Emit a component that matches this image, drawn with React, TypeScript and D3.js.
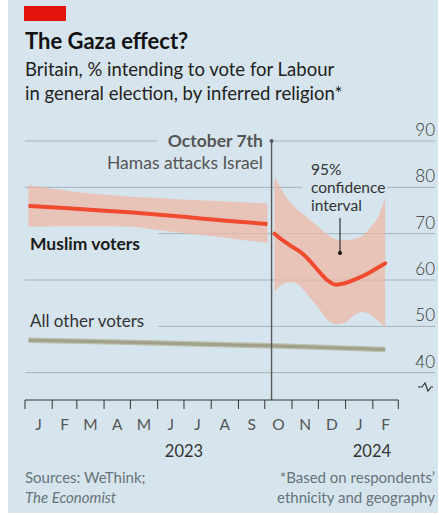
import * as d3 from "d3";

// x-axis month initials, Jan 2023 .. Feb 2024
const monthLabels = ["J", "F", "M", "A", "M", "J", "J", "A", "S", "O", "N", "D", "J", "F"];
const yearLabels = ["2023", "2024"];
const yearCentres = ["2023-07-01", "2024-01-31"];
const yTicks = [40, 50, 60, 70, 80, 90];

// Muslim voters, before Oct 7th
const preDates = ["2023-01-05", "2023-02-10", "2023-03-20", "2023-04-30", "2023-06-10", "2023-07-20", "2023-08-25", "2023-10-04"];
const preMid = [76.0, 75.6, 75.1, 74.6, 74.0, 73.3, 72.7, 72.1];
const preLow = [71.5, 71.6, 71.6, 71.5, 70.6, 69.7, 68.9, 68.0];
const preHigh = [80.5, 79.5, 78.6, 78.0, 77.6, 77.2, 76.9, 76.5];

// Muslim voters, after Oct 7th
const postDates = ["2023-10-12", "2023-10-22", "2023-11-01", "2023-11-11", "2023-11-21", "2023-12-01", "2023-12-11", "2023-12-21", "2023-12-31", "2024-01-10", "2024-01-20", "2024-01-30", "2024-02-08", "2024-02-15"];
const postMid = [70.0, 68.5, 67.2, 66.0, 64.2, 62.0, 60.0, 59.0, 59.3, 60.0, 60.8, 61.8, 62.8, 63.6];
const postLow = [57.4, 59.2, 59.5, 58.5, 56.3, 54.0, 51.5, 50.5, 50.8, 52.3, 53.1, 52.5, 51.0, 49.9];
const postHigh = [82.4, 78.9, 76.3, 74.6, 73.0, 71.5, 69.8, 68.8, 68.6, 68.8, 69.5, 71.5, 74.0, 77.7];

// All other voters
const otherDates = ["2023-01-05", "2023-06-01", "2023-10-07", "2024-02-15"];
const otherMid = [47.0, 46.4, 45.8, 45.0];
const otherLow = [46.4, 45.8, 45.2, 44.4];
const otherHigh = [47.6, 47.0, 46.4, 45.6];

const eventDate = "2023-10-07";

const BG = "#d6e5ed";
const GRID = "#a3b3bc";
const RED = "#f04a2f";
const FONT = "Lato, 'Open Sans', sans-serif";

type Pt = { d: Date; m: number; lo: number; hi: number };
const parse = d3.utcParse("%Y-%m-%d");
const toPts = (dates: string[], m: number[], lo: number[], hi: number[]): Pt[] =>
  dates.map((s, i) => ({ d: parse(s)!, m: m[i], lo: lo[i], hi: hi[i] }));

export default function App() {
  const width = 439;
  const height = 515;
  const left = 25;
  const right = 435;

  const x = d3
    .scaleUtc()
    .domain([new Date(Date.UTC(2023, 0, 1)), new Date(Date.UTC(2024, 2, 1))])
    .range([left, 398.3]);
  const y = d3.scaleLinear().domain([40, 90]).range([372.7, 141]);
  const axisY = 400;

  const pre = toPts(preDates, preMid, preLow, preHigh);
  const post = toPts(postDates, postMid, postLow, postHigh);
  const other = toPts(otherDates, otherMid, otherLow, otherHigh);

  const area = d3
    .area<Pt>()
    .x((p) => x(p.d))
    .y0((p) => y(p.lo))
    .y1((p) => y(p.hi))
    .curve(d3.curveMonotoneX);
  const line = d3
    .line<Pt>()
    .x((p) => x(p.d))
    .y((p) => y(p.m))
    .curve(d3.curveMonotoneX);

  const months = d3.utcMonth.range(x.domain()[0], d3.utcMonth.offset(x.domain()[1], 1));
  const ex = x(parse(eventDate)!) + 1.5;

  return (
    <svg
      width={width}
      height={height}
      style={{ position: "absolute", left: 0, top: 0, fontFamily: FONT }}
    >
      <rect x={8} y={0} width={430} height={513} fill={BG} />
      <rect x={24} y={6} width={42} height={15} fill="#e3120b" />

      <text x={25} y={49} fontSize={22} fontWeight={700} fill="#121212">
        The Gaza effect?
      </text>
      <text x={25} y={76} fontSize={18.5} fill="#222">
        Britain, % intending to vote for Labour
      </text>
      <text x={25} y={100} fontSize={18.5} fill="#222">
        in general election, by inferred religion*
      </text>

      {/* gridlines */}
      {yTicks.map((t) => (
        <g key={t}>
          <line x1={left} x2={right} y1={y(t)} y2={y(t)} stroke={GRID} strokeWidth={1} />
          <text x={right} y={y(t) - 5} textAnchor="end" fontSize={17} fill="#333" fontWeight={300}>
            {t}
          </text>
        </g>
      ))}

      {/* knock-outs behind labels */}
      <rect x={157} y={y(90) - 3} width={ex - 157} height={6} fill={BG} />
      <rect x={302} y={y(80) - 3} width={85} height={6} fill={BG} />
      <rect x={20} y={y(70) - 2} width={138} height={5} fill={BG} />
      <rect x={20} y={y(50) - 3} width={138} height={6} fill={BG} />

      {/* break symbol */}
      <path d="M418,387 h4 l3,-4 l3,8 l3,-4 h2" fill="none" stroke="#333" strokeWidth={1.2} />

      {/* all other voters */}
      <path d={area(other) ?? ""} fill="#bcbea9" />
      <path d={line(other) ?? ""} fill="none" stroke="#a0a18b" strokeWidth={3} />

      {/* Muslim voters */}
      <path d={area(pre) ?? ""} fill="#eeb8a5" fillOpacity={0.75} />
      <path d={area(post) ?? ""} fill="#eeb8a5" fillOpacity={0.75} />
      <path d={line(pre) ?? ""} fill="none" stroke={RED} strokeWidth={4} />
      <path d={line(post) ?? ""} fill="none" stroke={RED} strokeWidth={4} strokeLinecap="round" />

      {/* event line */}
      <line x1={ex} x2={ex} y1={y(90)} y2={axisY} stroke="#595959" strokeWidth={1.4} />
      <circle cx={ex} cy={y(90)} r={2} fill="#595959" />
      <text x={263} y={147} textAnchor="end" fontSize={17.5} fontWeight={700} fill="#555">
        October 7th
      </text>
      <text x={263} y={169} textAnchor="end" fontSize={17.5} fill="#555">
        Hamas attacks Israel
      </text>

      {/* CI annotation */}
      <text fontSize={15.5} fill="#333">
        <tspan x={311} y={175}>95%</tspan>
        <tspan x={311} y={193}>confidence</tspan>
        <tspan x={311} y={211}>interval</tspan>
      </text>
      <line x1={340} x2={340} y1={218} y2={253} stroke="#111" strokeWidth={1} />
      <circle cx={340} cy={253} r={2} fill="#111" />

      <text x={30} y={249.5} fontSize={17.5} fontWeight={700} fill="#1a1a1a">
        Muslim voters
      </text>
      <text x={30} y={327} fontSize={17} fill="#333">
        All other voters
      </text>

      {/* x axis */}
      <line x1={left} x2={x.range()[1]} y1={axisY} y2={axisY} stroke="#333" strokeWidth={1} />
      {months.map((m, i) => (
        <line key={i} x1={x(m)} x2={x(m)} y1={axisY} y2={axisY + 9} stroke="#333" strokeWidth={1} />
      ))}
      {months.slice(0, -1).map((m, i) => (
        <text
          key={i}
          x={(x(m) + x(months[i + 1])) / 2}
          y={430}
          textAnchor="middle"
          fontSize={15.5}
          fill="#555"
        >
          {monthLabels[i]}
        </text>
      ))}
      {yearLabels.map((yl, i) => (
        <text key={yl} x={x(parse(yearCentres[i])!)} y={457} textAnchor="middle" fontSize={16.5} fill="#333">
          {yl}
        </text>
      ))}

      {/* footer */}
      <text x={25} y={483} fontSize={15} fill="#66737a">
        Sources: WeThink;
      </text>
      <text x={25} y={503} fontSize={15} fill="#66737a" fontStyle="italic">
        The Economist
      </text>
      <text x={right} y={483} textAnchor="end" fontSize={15} fill="#66737a">
        *Based on respondents’
      </text>
      <text x={right} y={503} textAnchor="end" fontSize={15} fill="#66737a">
        ethnicity and geography
      </text>
    </svg>
  );
}
